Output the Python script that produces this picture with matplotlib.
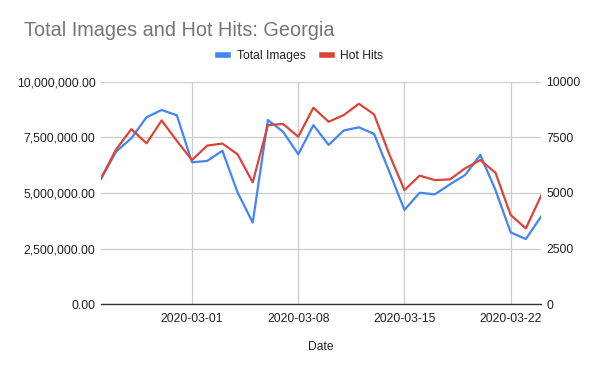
import matplotlib
matplotlib.use("Agg")
import matplotlib.pyplot as plt
import matplotlib.dates as mdates
import numpy as np
import pandas as pd
from matplotlib.lines import Line2D

plt.rcParams['font.family'] = ['Liberation Sans', 'DejaVu Sans']

dates = pd.date_range("2020-02-24", "2020-03-24", freq="D")
total_images = [5630000, 6860000, 7460000, 8400000, 8730000, 8490000, 6380000, 6440000,
                6900000, 5030000, 3670000, 8280000, 7750000, 6740000, 8050000, 7160000,
                7810000, 7950000, 7650000, 5960000, 4240000, 5010000, 4940000, 5390000,
                5810000, 6710000, 5130000, 3230000, 2930000, 3940000]
hot_hits = [5660, 6960, 7870, 7230, 8260, 7340, 6480, 7130, 7220, 6740, 5480, 8050,
            8100, 7530, 8830, 8200, 8500, 9010, 8530, 6740, 5130, 5780, 5580, 5610,
            6110, 6480, 5910, 4010, 3410, 4870]
left_ticks = [0, 2500000, 5000000, 7500000, 10000000]
right_ticks = [0, 2500, 5000, 7500, 10000]
date_ticks = pd.to_datetime(["2020-03-01", "2020-03-08", "2020-03-15", "2020-03-22"])

BLUE = "#4285F4"
RED = "#DB4437"
GRID = "#CCCCCC"
TXT = "#222222"

fig = plt.figure(figsize=(6, 3.71), dpi=100)
ax = fig.add_axes([0.1683, 0.1798, 0.7334, 0.6])
ax2 = ax.twinx()

ax.plot(dates, total_images, color=BLUE, lw=1.6, zorder=3, solid_joinstyle='round')
ax2.plot(dates, hot_hits, color=RED, lw=1.6, zorder=3, solid_joinstyle='round')

ax.set_xlim(dates[0], dates[-1])
ax.set_ylim(0, 10000000)
ax2.set_ylim(0, 10000)
ax.set_yticks(left_ticks)
ax.set_yticklabels([f"{v:,.2f}" for v in left_ticks])
ax2.set_yticks(right_ticks)
ax2.set_yticklabels([str(v) for v in right_ticks])
ax.set_xticks(date_ticks)
ax.set_xticklabels([d.strftime("%Y-%m-%d") for d in date_ticks])

ax.grid(True, color=GRID, lw=0.9, zorder=0)
ax.set_axisbelow(True)
for a in (ax, ax2):
    for s in ("top", "left", "right", "bottom"):
        a.spines[s].set_visible(False)
    a.tick_params(length=0, labelsize=8.7, colors=TXT)
ax.spines["bottom"].set_visible(True)
ax.spines["bottom"].set_color("#333333")
ax.spines["bottom"].set_linewidth(1.0)
ax.tick_params(axis='y', pad=4)
ax2.tick_params(axis='y', pad=4)
ax.tick_params(axis='x', pad=6)

ax.set_xlabel("Date", fontsize=8.7, color=TXT, labelpad=12)

fig.text(24/600, 1 - 36/371, "Total Images and Hot Hits: Georgia", fontsize=14.3,
         color="#757575", ha="left", va="baseline")

handles = [Line2D([], [], color=BLUE, lw=4), Line2D([], [], color=RED, lw=4)]
fig.legend(handles, ["Total Images", "Hot Hits"], loc="center", bbox_to_anchor=(301/600, 1 - 56/371),
           ncol=2, frameon=False, fontsize=8.7, handlelength=0.8, handletextpad=0.7,
           columnspacing=1.4, labelcolor=TXT)

fig.savefig("out.png", dpi=100, facecolor="white")
